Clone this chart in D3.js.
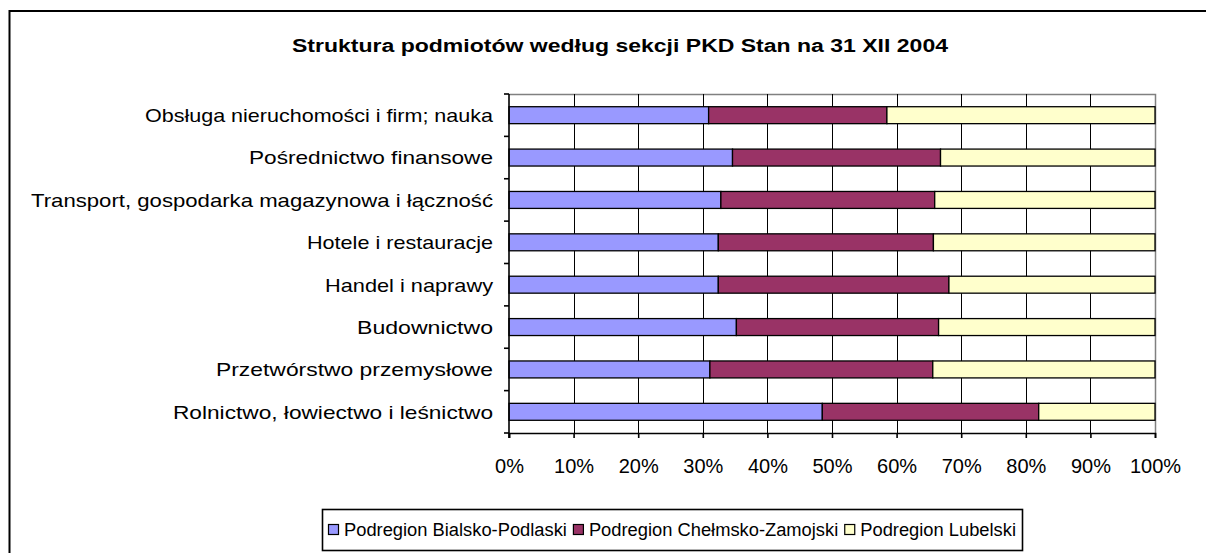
<!DOCTYPE html>
<html>
<head>
<meta charset="utf-8">
<script src="https://cdn.jsdelivr.net/npm/d3@7"></script>
<style>
  html, body { margin: 0; padding: 0; background: #fff; }
  svg { display: block; font-family: "Liberation Sans", Arial, sans-serif; }
</style>
</head>
<body>
<svg id="chart" width="1206" height="553"></svg>
<script>
// ---- data ----
const title = "Struktura podmiotów według sekcji PKD Stan na 31 XII 2004";
const categories = [
  "Obsługa nieruchomości i firm; nauka",
  "Pośrednictwo finansowe",
  "Transport, gospodarka magazynowa i łączność",
  "Hotele i restauracje",
  "Handel i naprawy",
  "Budownictwo",
  "Przetwórstwo przemysłowe",
  "Rolnictwo, łowiectwo i leśnictwo"
];
const seriesNames = ["Podregion Bialsko-Podlaski", "Podregion Chełmsko-Zamojski", "Podregion Lubelski"];
const bialskoPodlaski   = [30.9, 34.6, 32.8, 32.4, 32.4, 35.2, 31.1, 48.5];
const chelmskoZamojski  = [27.6, 32.2, 33.1, 33.3, 35.7, 31.3, 34.5, 33.5];
const lubelski          = [41.5, 33.2, 34.1, 34.3, 31.9, 33.5, 34.4, 18.0];
const xTicks = [0, 10, 20, 30, 40, 50, 60, 70, 80, 90, 100];
const colors = ["#9999FF", "#993366", "#FFFFCC"];

// ---- layout (rendered label widths, matching the original's wide glyphs) ----
const labelWidths = [348, 244, 462, 186, 168, 136, 277, 320];

const svg = d3.select("#chart");
const plot = { left: 509, right: 1155, top: 94, bottom: 433 };

// outer frame (right/bottom edges fall outside the picture)
svg.append("rect").attr("x", 9.5).attr("y", 11).attr("width", 1210).attr("height", 560)
  .attr("fill", "#fff").attr("stroke", "#000").attr("stroke-width", 2);

// title
svg.append("text").attr("x", 292).attr("y", 52)
  .attr("font-size", 18).attr("font-weight", "bold")
  .attr("textLength", 656).attr("lengthAdjust", "spacingAndGlyphs").text(title);

const x = d3.scaleLinear().domain([0, 100]).range([plot.left, plot.right]);
const y = d3.scaleBand().domain(categories).range([plot.top, plot.bottom]).paddingInner(0.6).paddingOuter(0.3);

// plot area border (gray top/right)
svg.append("path")
  .attr("d", `M${plot.left},${plot.top + 0.5}H${plot.right + 0.5}V${plot.bottom}`)
  .attr("fill", "none").attr("stroke", "#808080").attr("stroke-width", 1.5);

// gridlines
svg.append("g").selectAll("line").data(xTicks.filter(d => d > 0 && d < 100)).join("line")
  .attr("x1", d => Math.round(x(d)) + 0.5).attr("x2", d => Math.round(x(d)) + 0.5)
  .attr("y1", plot.top).attr("y2", plot.bottom)
  .attr("stroke", "#000").attr("stroke-width", 1);

// stacked bars
const rows = categories.map((c, i) => ({ cat: c, s0: bialskoPodlaski[i], s1: chelmskoZamojski[i], s2: lubelski[i] }));
const stacked = d3.stack().keys(["s0", "s1", "s2"]).offset(d3.stackOffsetExpand)(rows);
svg.append("g").selectAll("g").data(stacked).join("g")
  .attr("fill", (d, i) => colors[i])
  .selectAll("rect").data(d => d).join("rect")
  .attr("x", d => x(d[0] * 100))
  .attr("width", d => x(d[1] * 100) - x(d[0] * 100))
  .attr("y", d => y(d.data.cat))
  .attr("height", y.bandwidth())
  .attr("stroke", "#000").attr("stroke-width", 1.3);

// y axis
const yAxisG = svg.append("g").attr("transform", `translate(${plot.left},0)`);
yAxisG.append("line").attr("x1", 0).attr("x2", 0).attr("y1", plot.top).attr("y2", plot.bottom + 5)
  .attr("stroke", "#000").attr("stroke-width", 1.6);
const step = (plot.bottom - plot.top) / categories.length;
const bounds = d3.range(categories.length + 1).map(i => plot.top + i * step);
yAxisG.selectAll("line.t").data(bounds).join("line").attr("class", "t")
  .attr("x1", -5).attr("x2", 0).attr("y1", d => d).attr("y2", d => d)
  .attr("stroke", "#000").attr("stroke-width", 1.6);
yAxisG.selectAll("text").data(categories).join("text")
  .attr("x", -16).attr("y", d => y(d) + y.bandwidth() / 2).attr("dy", "0.36em")
  .attr("text-anchor", "end").attr("font-size", 19)
  .attr("textLength", (d, i) => labelWidths[i]).attr("lengthAdjust", "spacingAndGlyphs")
  .text(d => d);

// x axis
const xAxis = d3.axisBottom(x).tickValues(xTicks).tickFormat(d => d + "%").tickSize(5).tickPadding(21);
const xg = svg.append("g").attr("transform", `translate(0,${plot.bottom})`).call(xAxis);
xg.select(".domain").attr("stroke", "#000").attr("stroke-width", 1.6);
xg.selectAll(".tick line").attr("stroke", "#000").attr("stroke-width", 1.6);
xg.selectAll(".tick text").attr("font-size", 20).attr("fill", "#000")
  .attr("font-family", "Liberation Sans, Arial, sans-serif");

// legend
const lg = svg.append("g");
const box = { x: 322, y: 509, w: 700, h: 41 };
lg.append("rect").attr("x", box.x + 0.5).attr("y", box.y + 0.5).attr("width", box.w).attr("height", box.h)
  .attr("fill", "#fff").attr("stroke", "#000").attr("stroke-width", 1.6);
// measure natural widths, then spread to fill the box like the original
const tmp = lg.append("text").attr("font-size", 18);
const natural = seriesNames.map(n => { tmp.text(n); return tmp.node().getComputedTextLength(); });
tmp.remove();
const pad = 6, sq = 10, gapSq = 6, gapItem = 6;
const avail = box.w - 2 * pad - seriesNames.length * (sq + gapSq) - (seriesNames.length - 1) * gapItem;
const k = avail / d3.sum(natural);
let lx = box.x + pad;
seriesNames.forEach((name, i) => {
  lg.append("rect").attr("x", lx + 0.5).attr("y", box.y + 15.5).attr("width", sq).attr("height", sq)
    .attr("fill", colors[i]).attr("stroke", "#000").attr("stroke-width", 1.2);
  const tw = natural[i] * k;
  lg.append("text").attr("x", lx + sq + gapSq).attr("y", box.y + 27).attr("font-size", 18)
    .attr("textLength", tw).attr("lengthAdjust", "spacingAndGlyphs").text(name);
  lx += sq + gapSq + tw + gapItem;
});
</script>
</body>
</html>
